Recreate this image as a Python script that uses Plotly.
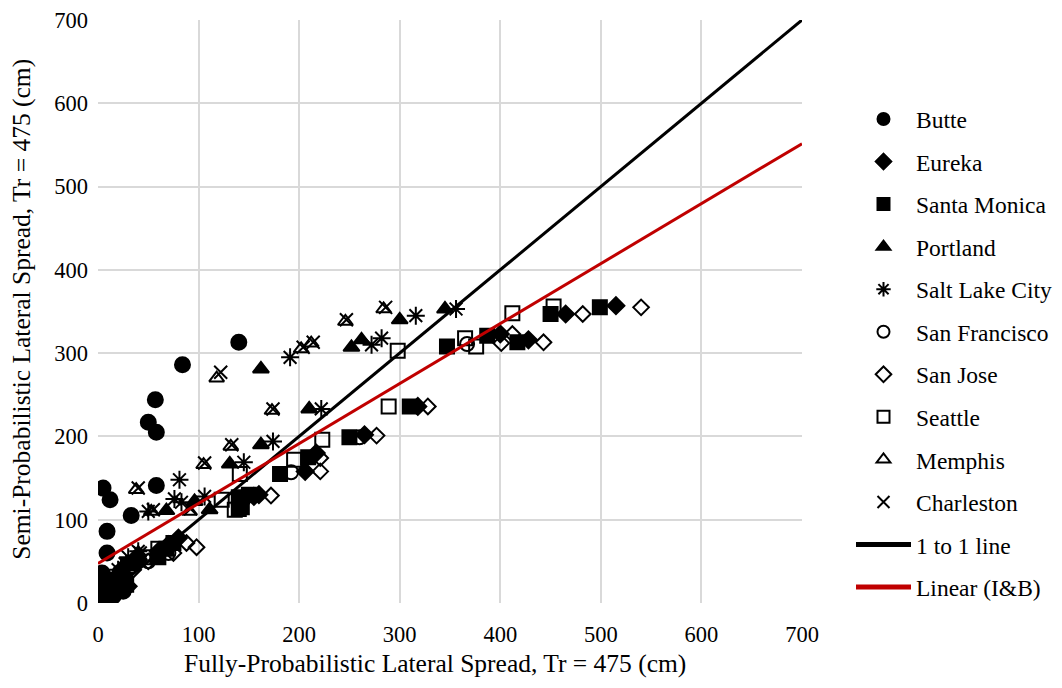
import plotly.graph_objects as go

# ---- data (x = fully-probabilistic, y = semi-probabilistic), cm ----
butte_x = [5, 12, 58, 33, 9, 9, 22, 140, 84, 57, 50, 58, 4, 3, 2, 5, 8, 4, 12, 15, 20, 7, 25, 10]
butte_y = [138, 124, 141, 105, 86, 60, 37, 313, 286, 244, 217, 205, 36, 30, 22, 15, 10, 6, 18, 8, 25, 3, 14, 28]

eureka_x = [515, 465, 428, 400, 318, 265, 217, 206, 160, 155, 80, 70, 60, 40, 25, 15, 8, 3, 30]
eureka_y = [357, 347, 316, 323, 236, 202, 180, 158, 130, 128, 78, 70, 62, 52, 35, 22, 12, 5, 20]

smonica_x = [499, 450, 417, 387, 347, 310, 250, 209, 181, 143, 140, 150, 75, 68, 60, 35, 20, 12, 5, 28, 140]
smonica_y = [355, 347, 313, 321, 308, 236, 199, 175, 155, 115, 127, 130, 72, 65, 55, 48, 28, 15, 8, 22, 113]

portland_x = [345, 300, 262, 252, 210, 162, 162, 131, 96, 111, 68, 40, 25, 12, 5]
portland_y = [353, 340, 316, 307, 233, 281, 190, 167, 122, 112, 111, 60, 45, 20, 8]

slc_x = [356, 316, 282, 272, 191, 222, 174, 145, 106, 81, 76, 83, 50, 40, 30, 20, 10]
slc_y = [353, 345, 318, 310, 295, 233, 194, 169, 128, 148, 125, 121, 110, 62, 55, 40, 15]

sf_x = [367, 260, 192, 145, 70, 50, 25, 10]
sf_y = [311, 199, 157, 125, 60, 50, 30, 12]

sanjose_x = [540, 482, 443, 412, 401, 328, 277, 221, 221, 172, 98, 88, 75, 50, 35, 20, 10, 5]
sanjose_y = [355, 347, 313, 323, 312, 236, 201, 174, 158, 129, 67, 72, 60, 50, 40, 25, 15, 5]

seattle_x = [453, 412, 365, 376, 298, 289, 223, 195, 141, 123, 136, 60, 45, 30, 15, 8]
seattle_y = [356, 348, 318, 308, 303, 236, 196, 172, 155, 124, 112, 65, 55, 45, 20, 10]

memphis_x = [284, 246, 212, 202, 118, 173, 132, 105, 38, 53, 91, 40, 25, 10, 5]
memphis_y = [353, 338, 312, 305, 270, 231, 188, 166, 136, 110, 110, 58, 45, 18, 6]

charleston_x = [286, 247, 214, 204, 122, 174, 133, 106, 40, 55, 92, 42, 27, 12, 6]
charleston_y = [355, 340, 313, 307, 277, 233, 190, 168, 138, 112, 113, 60, 47, 20, 8]

one_to_one_x = [0, 700]
one_to_one_y = [0, 700]
linear_x = [0, 700]
linear_y = [47.5, 551.5]

axis_ticks = [0, 100, 200, 300, 400, 500, 600, 700]

x_title = "Fully-Probabilistic Lateral Spread, Tr = 475 (cm)"
y_title = "Semi-Probabilistic Lateral Spread, Tr = 475 (cm)"

FONT = "Liberation Serif"

series = [
    ("Butte", butte_x, butte_y, "circle", 15),
    ("Eureka", eureka_x, eureka_y, "diamond", 13),
    ("Santa Monica", smonica_x, smonica_y, "square", 14),
    ("Portland", portland_x, portland_y, "triangle-up", 14),
    ("Salt Lake City", slc_x, slc_y, "asterisk-open", 15),
    ("San Francisco", sf_x, sf_y, "circle-open", 14),
    ("San Jose", sanjose_x, sanjose_y, "diamond-open", 12),
    ("Seattle", seattle_x, seattle_y, "square-open", 14),
    ("Memphis", memphis_x, memphis_y, "triangle-up-open", 13),
    ("Charleston", charleston_x, charleston_y, "x-thin-open", 13),
]

fig = go.Figure()
for i, (name, xs, ys, sym, sz) in enumerate(series):
    fig.add_trace(go.Scatter(
        x=xs, y=ys, mode="markers", name=name, legendgroup=f"g{i}",
        marker=dict(symbol=sym, size=sz, color="black",
                    line=dict(color="black", width=2)),
    ))

fig.add_trace(go.Scatter(x=one_to_one_x, y=one_to_one_y, mode="lines",
                         name="1 to 1 line", legendgroup="g10",
                         line=dict(color="black", width=3)))
fig.add_trace(go.Scatter(x=linear_x, y=linear_y, mode="lines",
                         name="Linear (I&B)", legendgroup="g11",
                         line=dict(color="#c00000", width=3)))

axis_common = dict(
    range=[0, 700], tickvals=axis_ticks, showgrid=True, gridcolor="#d9d9d9",
    gridwidth=2, zeroline=False, showline=False, ticks="", automargin=False,
    ticklabeloverflow="allow",
    tickfont=dict(family=FONT, size=22.5, color="black"),
)

W, H = 1054, 680
L, R, T, B = 90, 260, 12, 84.5
PH = H - T - B
PW = W - L - R

fig.update_layout(
    width=W, height=H,
    margin=dict(l=L, r=R, t=T, b=B, autoexpand=False),
    paper_bgcolor="white", plot_bgcolor="white",
    font=dict(family=FONT, color="black"),
    xaxis=dict(**axis_common, ticklabelstandoff=15),
    yaxis=dict(**axis_common, ticklabelstandoff=9),
    legend=dict(xref="container", yref="paper",
                x=843 / W, xanchor="left",
                y=(H - B - 345.5) / PH, yanchor="middle",
                font=dict(family=FONT, size=23.5, color="black"),
                traceorder="grouped", tracegroupgap=9, itemwidth=55,
                itemsizing="constant", bgcolor="rgba(0,0,0,0)"),
    showlegend=True,
    annotations=[
        dict(text=x_title, xref="paper", yref="paper",
             x=(426.5 - L) / PW, y=(H - B - 656) / PH,
             xanchor="center", yanchor="middle", showarrow=False,
             font=dict(family=FONT, size=25.5, color="black")),
        dict(text=y_title, xref="paper", yref="paper",
             x=(14 - L) / PW, y=(H - B - 302) / PH, textangle=-90,
             xanchor="center", yanchor="middle", showarrow=False,
             font=dict(family=FONT, size=25.5, color="black")),
    ],
)

fig.write_html("out.html")
